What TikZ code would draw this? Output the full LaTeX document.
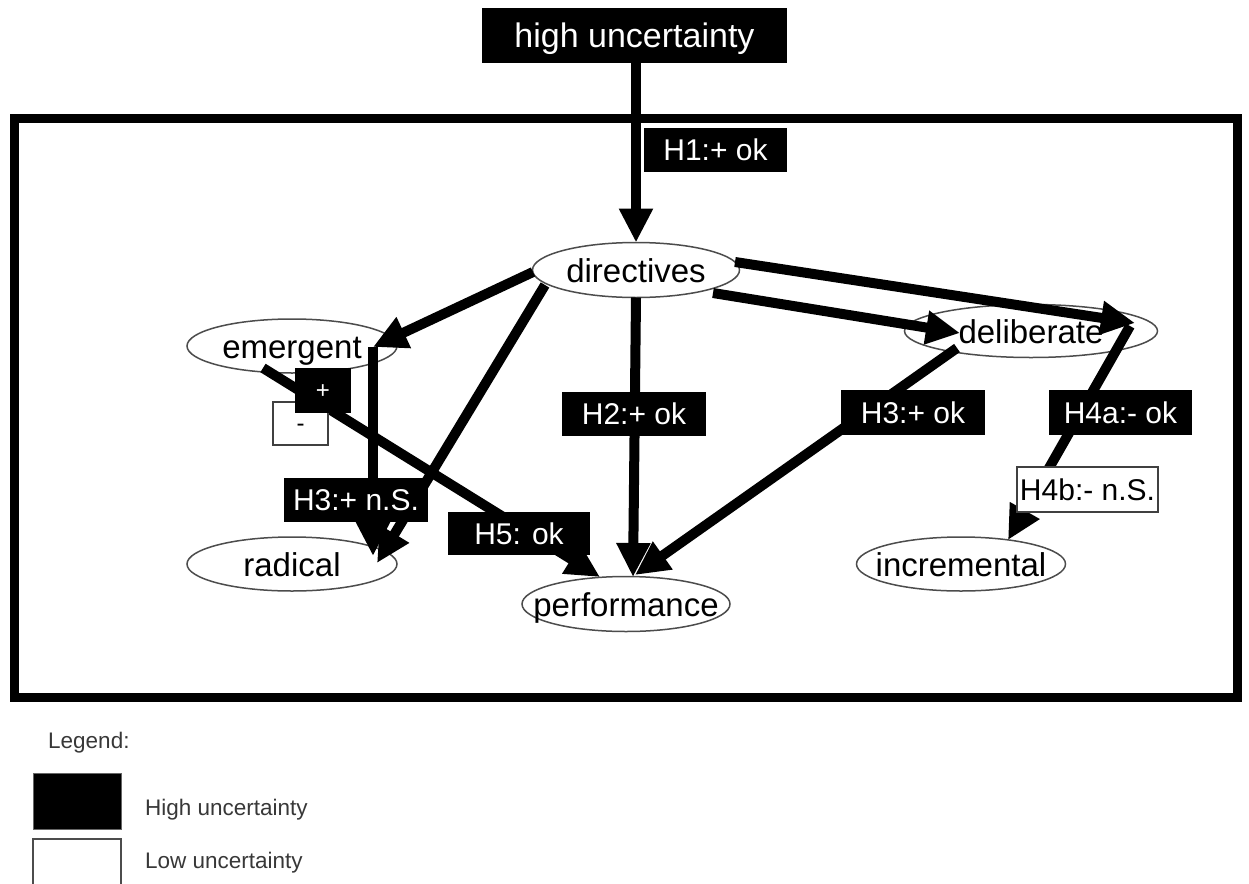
\documentclass[tikz,border=0pt]{standalone}
\usepackage{fontspec}
\setmainfont{Liberation Sans}
\usetikzlibrary{arrows.meta,shapes.geometric,calc}
\begin{document}
\begin{tikzpicture}[x=1pt,y=-1pt,
  ell/.style={ellipse,draw=black!70,line width=1.5pt,fill=white,inner sep=0pt,outer sep=0pt,
    font=\fontsize{33}{40}\selectfont,text height=28pt,text depth=4pt},
  blk/.style={rectangle,fill=black,text=white,inner sep=0pt,outer sep=0pt,
    minimum width=143pt,minimum height=44pt,
    font=\fontsize{30}{36}\selectfont,text height=26pt,text depth=4.6pt},
  wht/.style={rectangle,fill=white,draw=black!75,line width=1.5pt,text=black,inner sep=0pt,outer sep=0pt,
    minimum width=141pt,minimum height=45pt,
    font=\fontsize{30}{36}\selectfont,text height=26pt,text depth=4.6pt},
  arr/.style={line width=10pt,-{Triangle[length=34pt,width=32pt]}},
  legtxt/.style={anchor=base west,inner sep=0pt,text=black!78,font=\fontsize{22.5}{27}\selectfont},
]
\useasboundingbox (0,0) rectangle (1249,883);
\fill[white] (0,0) rectangle (1249,883);

% frame
\draw[line width=9pt] (14,118) rectangle (1237,697);

% top box
\node[blk,minimum width=305pt,minimum height=55pt,font=\fontsize{34}{40}\selectfont,text height=30pt,text depth=5.6pt]
  (hu) at (634.5,35.5) {high uncertainty};

% ellipses
\node[ell,minimum width=207pt,minimum height=55pt] (directives) at (636,270) {\makebox[0pt]{directives}};
\node[ell,minimum width=210pt,minimum height=54pt] (emergent) at (292,346) {\makebox[0pt]{emergent}};
\node[ell,minimum width=253pt,minimum height=53pt] (deliberate) at (1031,331) {\makebox[0pt]{deliberate}};
\node[ell,minimum width=210pt,minimum height=54pt] (radical) at (292,564) {\makebox[0pt]{radical}};
\node[ell,minimum width=208pt,minimum height=55pt] (performance) at (626,604) {\makebox[0pt]{performance}};
\node[ell,minimum width=209pt,minimum height=54pt] (incremental) at (961,564) {\makebox[0pt]{incremental}};

% arrows
\draw[arr] (hu.south -| directives.north) -- (directives.north);
\draw[arr] ($(directives.center)+(-103,2)$) -- ($(emergent.center)+(81,1)$);
\draw[arr] ($(emergent.center)+(81,1)$) -- ($(radical.center)+(81,-8)$);
\draw[arr] ($(directives.center)+(-91,15)$) -- ($(radical.center)+(85,-1)$);
\draw[arr] (directives.south) -- ($(performance.center)+(7,-27)$);
\draw[arr] ($(emergent.center)+(-29,22)$) -- ($(performance.center)+(-26,-27)$);
\draw[arr] ($(directives.center)+(77,23)$) -- ($(deliberate.center)+(-71,2)$);
\draw[arr] ($(directives.center)+(99,-8)$) -- ($(deliberate.center)+(104,-8)$);
\draw[arr] ($(deliberate.center)+(-74,17)$) -- ($(performance.center)+(9,-29)$);
\draw[arr] ($(deliberate.center)+(99,-5)$) -- ($(incremental.center)+(47,-24)$);

% labels
\node[blk] (h1) at (715.5,150) {H1:+ ok};
\node[wht,minimum width=55pt,minimum height=43pt,font=\fontsize{24}{28}\selectfont,text height=18pt,text depth=3pt] (minus) at (300.5,423.5) {-};
\node[blk,minimum width=56pt,minimum height=45pt,font=\fontsize{24}{28}\selectfont,text height=18pt,text depth=3pt] (plus) at (323,390.5) {+};
\node[blk,minimum width=144pt] (h2) at (634,414) {H2:+ ok};
\node[blk,minimum width=144pt,minimum height=45pt] (h3ok) at (913,412.5) {H3:+ ok};
\node[blk,minimum height=45pt] (h4a) at (1120.5,412.5) {H4a:- ok};
\node[wht] (h4b) at (1087.5,489.5) {H4b:- n.S.};
\node[blk,minimum width=144pt] (h3ns) at (356,500) {H3:+ n.S.};
\node[blk,minimum width=142pt,minimum height=43pt] (h5) at (519,533.5) {H5: ok};

% legend
\node[legtxt] (legend) at (48,748) {Legend:};
\node[rectangle,fill=black,draw=black!60,line width=1pt,minimum width=88pt,minimum height=56pt,inner sep=0pt] (lbhigh) at (77,801) {};
\node[legtxt] (lthigh) at (145,815) {High uncertainty};
\node[rectangle,fill=white,draw=black!70,line width=1.2pt,minimum width=88pt,minimum height=56pt,inner sep=0pt] (lblow) at (77,867) {};
\node[legtxt] (ltlow) at (145,868) {Low uncertainty};
\end{tikzpicture}
\end{document}
